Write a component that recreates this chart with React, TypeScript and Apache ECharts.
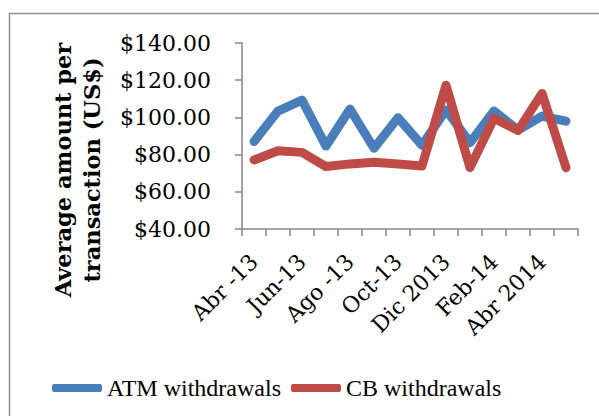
import React, { useEffect, useRef } from "react";
import * as echarts from "echarts";

const categories = [
  "Abr -13", "May-13", "Jun-13", "Jul-13", "Ago -13", "Sep-13", "Oct-13",
  "Nov-13", "Dic 2013", "Ene-14", "Feb-14", "Mar-14", "Abr 2014", "May-14",
];
const atmWithdrawals = [87, 103.4, 109.3, 84.6, 104.5, 83.4, 99.8, 85, 104, 86.4, 103.4, 93.2, 100.7, 98];
const cbWithdrawals = [77.1, 82.1, 81.2, 73.6, 75, 75.9, 75, 73.9, 117.3, 73, 99.5, 92.9, 112.9, 73];
const yAxisTitle = "Average amount per\ntransaction (US$)";

const SERIF_WIDE = "DejaVu Serif";
const SERIF = "'Liberation Serif', 'DejaVu Serif', serif";

export default function App() {
  const ref = useRef<HTMLDivElement>(null);
  useEffect(() => {
    document.body.style.margin = "0";
    const chart = echarts.init(ref.current!, undefined, { renderer: "svg" });
    chart.setOption({
      animation: false,
      backgroundColor: "#ffffff",
      graphic: [
        {
          type: "rect",
          shape: { x: 9.5, y: 13.5, width: 700, height: 500 },
          style: { fill: "none", stroke: "#8c8c8c", lineWidth: 1.5 },
          silent: true,
        },
        {
          type: "text",
          x: 77.5,
          y: 170,
          rotation: Math.PI / 2,
          silent: true,
          style: {
            text: yAxisTitle,
            fontFamily: SERIF_WIDE,
            fontSize: 22.5,
            fontWeight: "bold",
            lineHeight: 29,
            fill: "#000",
            textAlign: "center",
            textVerticalAlign: "middle",
            align: "center",
            verticalAlign: "middle",
          },
        },
      ],
      grid: { left: 242, right: 21, top: 43, bottom: 187, containLabel: false },
      legend: {
        left: 47,
        top: 371,
        icon: "roundRect",
        itemWidth: 50,
        itemHeight: 8,
        itemGap: 10,
        textStyle: { fontFamily: SERIF, fontSize: 24, color: "#000" },
        data: ["ATM withdrawals", "CB withdrawals"],
      },
      xAxis: {
        type: "category",
        data: categories,
        boundaryGap: true,
        axisLine: { lineStyle: { color: "#868686", width: 1.5 } },
        axisTick: { show: true, length: 7, interval: 0, lineStyle: { color: "#868686", width: 1.5 } },
        axisLabel: {
          interval: 1,
          rotate: 45,
          margin: 29,
          fontFamily: SERIF_WIDE,
          fontSize: 22,
          color: "#000",
        },
      },
      yAxis: {
        type: "value",
        min: 40,
        max: 140,
        interval: 20,
        splitLine: { show: false },
        axisLine: { show: true, lineStyle: { color: "#868686", width: 1.5 } },
        axisTick: { show: true, length: 7, lineStyle: { color: "#868686", width: 1.5 } },
        axisLabel: {
          margin: 31,
          fontFamily: SERIF_WIDE,
          fontSize: 22,
          color: "#000",
          formatter: (v: number) => "$" + v.toFixed(2),
        },
      },
      series: [
        {
          name: "ATM withdrawals",
          type: "line",
          data: atmWithdrawals,
          symbol: "none",
          color: "#4a7ebb",
          lineStyle: { width: 9, color: "#4a7ebb", cap: "round", join: "round" },
        },
        {
          name: "CB withdrawals",
          type: "line",
          data: cbWithdrawals,
          symbol: "none",
          color: "#be4b48",
          lineStyle: { width: 9, color: "#be4b48", cap: "round", join: "round" },
        },
      ],
    });
    return () => chart.dispose();
  }, []);
  return <div ref={ref} style={{ width: 599, height: 416 }} />;
}
